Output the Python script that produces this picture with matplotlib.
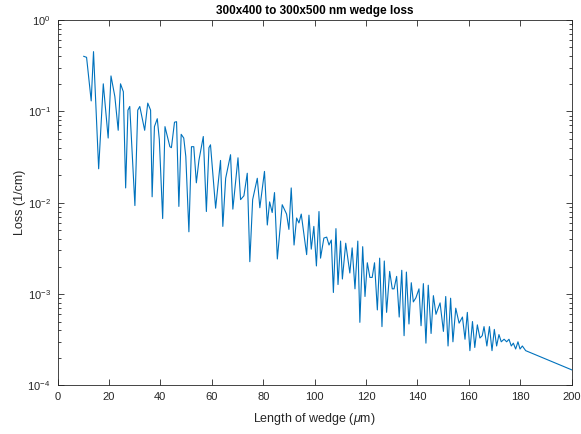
import matplotlib
matplotlib.use("Agg")
import matplotlib.pyplot as plt

plt.rcParams['font.family'] = ['Liberation Sans', 'DejaVu Sans']
plt.rcParams['mathtext.fontset'] = 'custom'
plt.rcParams['mathtext.rm'] = 'Liberation Sans'
plt.rcParams['mathtext.it'] = 'Liberation Sans:italic'

# wedge length (um) and loss (1/cm)
length_um = [10.2, 11.3, 13.1, 14.0, 16.0, 17.8, 19.7, 20.8, 22.3, 23.6,
             24.5, 25.6, 26.5, 27.4, 28.1, 30.1, 31.2, 32.0, 33.9, 35.1,
             36.2, 36.8, 37.7, 38.8, 39.6, 40.9, 41.8, 43.7, 44.3, 45.5,
             46.3, 47.2, 48.1, 49.1, 49.9, 51.1, 52.1, 53.0, 54.0, 55.0,
             56.7, 57.9, 58.9, 59.5, 61.5, 63.4, 64.3, 65.4, 67.3, 68.2,
             70.2, 71.2, 72.5, 73.8, 74.8, 75.9, 77.7, 78.7, 80.5, 81.6,
             82.5, 83.5, 84.4, 85.5, 87.4, 89.1, 90.0, 90.9, 92.0, 93.0,
             93.9, 94.8, 96.9, 97.8, 98.7, 99.7, 100.7, 101.7, 102.3, 103.6,
             104.7, 105.6, 106.5, 107.3, 108.3, 109.1, 110.1, 110.8, 112.1, 113.7,
             114.6, 115.7, 116.8, 117.6, 118.7, 119.6, 120.5, 121.5, 122.4, 123.3,
             124.4, 125.3, 126.2, 127.1, 128.0, 129.2, 130.2, 130.9, 131.9, 132.9,
             133.9, 134.8, 135.7, 136.7, 137.6, 138.4, 139.4, 140.6, 141.4, 142.3,
             143.3, 144.2, 145.3, 146.2, 147.2, 148.8, 150.1, 151.0, 151.9, 152.9,
             153.8, 154.9, 156.2, 157.5, 158.5, 159.4, 160.4, 161.4, 162.3, 163.3,
             164.3, 165.2, 165.9, 167.0, 168.0, 169.0, 169.9, 170.8, 171.7, 172.6,
             173.7, 174.7, 175.6, 176.5, 177.3, 178.2, 179.1, 179.9, 180.8, 182.1,
             200.0]
loss = [0.40, 0.39, 0.13, 0.45, 0.0235, 0.20, 0.051, 0.244, 0.145, 0.062,
        0.20, 0.164, 0.0145, 0.103, 0.113, 0.0093, 0.103, 0.113, 0.062, 0.123,
        0.103, 0.0116, 0.068, 0.083, 0.049, 0.0067, 0.068, 0.041, 0.040, 0.076,
        0.077, 0.0091, 0.056, 0.051, 0.032, 0.0048, 0.041, 0.041, 0.0165, 0.029,
        0.053, 0.0080, 0.040, 0.043, 0.0087, 0.029, 0.0055, 0.0185, 0.0335, 0.0085,
        0.031, 0.0108, 0.0119, 0.021, 0.00226, 0.0108, 0.0185, 0.0088, 0.022, 0.0057,
        0.0102, 0.0078, 0.0129, 0.00242, 0.0095, 0.0075, 0.0051, 0.0145, 0.00344, 0.0068,
        0.0060, 0.0075, 0.0027, 0.0073, 0.0031, 0.0055, 0.00203, 0.0080, 0.00247, 0.0041,
        0.0042, 0.00344, 0.0039, 0.00104, 0.0052, 0.00127, 0.0038, 0.00146, 0.0036, 0.0017,
        0.0032, 0.00114, 0.0038, 0.00049, 0.0033, 0.00094, 0.0022, 0.00152, 0.00152, 0.0022,
        0.00067, 0.00247, 0.00044, 0.0023, 0.00063, 0.00177, 0.00114, 0.00114, 0.00156, 0.00056,
        0.00182, 0.00035, 0.00174, 0.00047, 0.00133, 0.00082, 0.00091, 0.00114, 0.00045, 0.0013,
        0.00029, 0.00125, 0.00037, 0.00096, 0.00060, 0.00080, 0.00039, 0.00094, 0.00027, 0.00090,
        0.00030, 0.00070, 0.00048, 0.00056, 0.00032, 0.00063, 0.00024, 0.00050, 0.00026, 0.00046,
        0.00033, 0.00035, 0.00044, 0.00027, 0.00044, 0.00024, 0.00041, 0.00027, 0.00036, 0.00030,
        0.00032, 0.00030, 0.00032, 0.00027, 0.00029, 0.00025, 0.00030, 0.00025, 0.00027, 0.00024,
        0.000148]

x_ticks = [0, 20, 40, 60, 80, 100, 120, 140, 160, 180, 200]

fig = plt.figure(figsize=(5.81, 4.34), dpi=100)
ax = fig.add_axes([0.099, 0.112, 0.885, 0.842])
ax.plot(length_um, loss, color='#0072BD', lw=0.8)
ax.set_yscale('log')
ax.set_xlim(0, 200)
ax.set_ylim(1e-4, 1)
ax.set_xticks(x_ticks)

# matlab style box and ticks
for s in ax.spines.values():
    s.set_color('#262626')
    s.set_linewidth(0.6)
ax.tick_params(which='both', direction='in', top=True, right=True,
               colors='#262626', labelcolor='#262626', width=0.6, labelsize=8)
ax.tick_params(which='major', length=4, pad=5)
ax.tick_params(which='minor', length=2)
ax.tick_params(axis='x', which='minor', bottom=False, top=False)

ax.set_title('300x400 to 300x500 nm wedge loss', fontsize=8.5, fontweight='bold', pad=4)
ax.set_xlabel(r'Length of wedge ($\mu$m)', fontsize=9, color='#262626', labelpad=6)
ax.set_ylabel('Loss (1/cm)', fontsize=9, color='#262626', labelpad=1)

fig.savefig('out.png', dpi=100)
